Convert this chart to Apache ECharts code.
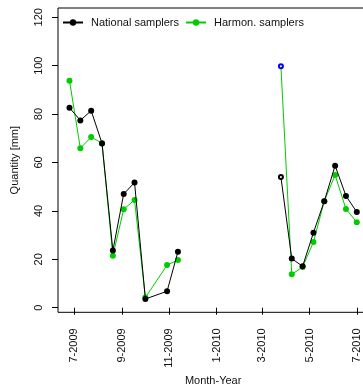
<!DOCTYPE html>
<html><head><meta charset="utf-8">
<script src="https://cdn.jsdelivr.net/npm/echarts@6/dist/echarts.min.js"></script>
<style>html,body{margin:0;padding:0;background:#fff}#c{width:363px;height:389px}</style>
</head><body><div id="c"></div>
<script>
// Data
const dates2009 = ['2009-06-25','2009-07-09','2009-07-23','2009-08-06','2009-08-20','2009-09-03','2009-09-17','2009-10-01','2009-10-29','2009-11-12'];
const national2009 = [82.6, 77.4, 81.4, 67.9, 23.6, 47.0, 51.7, 3.6, 6.8, 23.1];
const harmon2009   = [93.8, 65.9, 70.5, 68.0, 21.5, 40.7, 44.5, 4.2, 17.6, 19.7];
const dates2010 = ['2010-03-25','2010-04-08','2010-04-22','2010-05-06','2010-05-20','2010-06-03','2010-06-17','2010-07-01'];
const national2010 = [54.0, 20.3, 17.1, 31.0, 44.0, 58.7, 46.2, 39.5];
const harmon2010   = [99.8, 13.8, 16.8, 27.1, 44.0, 54.8, 40.8, 35.3];
const xTickDates = ['2009-07-01','2009-09-01','2009-11-01','2010-01-01','2010-03-01','2010-05-01','2010-07-01'];
const yTicks = [0, 20, 40, 60, 80, 100, 120];
const seriesNames = ['National samplers', 'Harmon. samplers'];

function t(s){ const p = s.split('-').map(Number); return Date.UTC(p[0], p[1]-1, p[2]); }
const DAY = 86400000;
const xMin = t('2009-06-25') - 14.84*DAY;
const xMax = t('2010-07-01') + 14.84*DAY;

const BLACK = '#000000', GREEN = '#00CD00';
function pts(dates, vals, firstOpen, openColor){
  return dates.map((d,i)=>{
    const item = {value:[t(d), vals[i]]};
    if (firstOpen && i===0){ item.symbol='emptyCircle'; item.symbolSize=4; item.itemStyle={color:openColor, borderColor:openColor, borderWidth:1}; }
    return item;
  });
}
function mk(name, color, data){
  return {name, type:'line', data, symbol:'circle', symbolSize:6, showSymbol:true,
    itemStyle:{color}, lineStyle:{color, width:1}, emphasis:{disabled:true}, animation:false, z: color===BLACK?3:2};
}
const font = 'Liberation Sans, Arial, sans-serif';
const chart = echarts.init(document.getElementById('c'), null, {renderer:'canvas'});
chart.setOption({
  animation:false,
  backgroundColor:'#fff',
  grid:{left:58, top:8, width:310.3, height:304.3, outerBoundsMode:'none', containLabel:false,
    show:true, borderColor:'#000', borderWidth:1, backgroundColor:'transparent'},
  legend:{left:62, top:17, padding:0, itemWidth:20, itemHeight:8, itemGap:6,
    textStyle:{fontFamily:font, fontSize:11, color:'#111', padding:[0,0,0,3]},
    data:seriesNames},
  xAxis:{type:'value', min:xMin, max:xMax, scale:true,
    axisLine:{show:false}, splitLine:{show:false},
    axisTick:{show:true, length:7, lineStyle:{color:'#000'}, customValues: xTickDates.map(t)},
    axisLabel:{rotate:90, margin:16, fontFamily:font, fontSize:11, color:'#111', customValues: xTickDates.map(t),
      formatter:(v)=>{const d=new Date(v); return (d.getUTCMonth()+1)+'-'+d.getUTCFullYear();}},
    name:'Month-Year', nameLocation:'middle', nameGap:63, nameTextStyle:{fontFamily:font, fontSize:11, color:'#111'}},
  yAxis:{type:'value', min:-1.9, max:123.84,
    axisLine:{show:false}, splitLine:{show:false},
    axisTick:{show:true, length:6, lineStyle:{color:'#000'}, customValues:yTicks},
    axisLabel:{rotate:90, margin:14, fontFamily:font, fontSize:11, color:'#111', customValues:yTicks},
    name:'Quantity [mm]', nameLocation:'middle', nameGap:38, nameTextStyle:{fontFamily:font, fontSize:11, color:'#111'}},
  series:[
    mk(seriesNames[0], BLACK, pts(dates2009, national2009)),
    mk(seriesNames[1], GREEN, pts(dates2009, harmon2009)),
    mk(seriesNames[0], BLACK, pts(dates2010, national2010, true, '#000000')),
    mk(seriesNames[1], GREEN, pts(dates2010, harmon2010, true, '#0000FF'))
  ]
});
</script></body></html>
